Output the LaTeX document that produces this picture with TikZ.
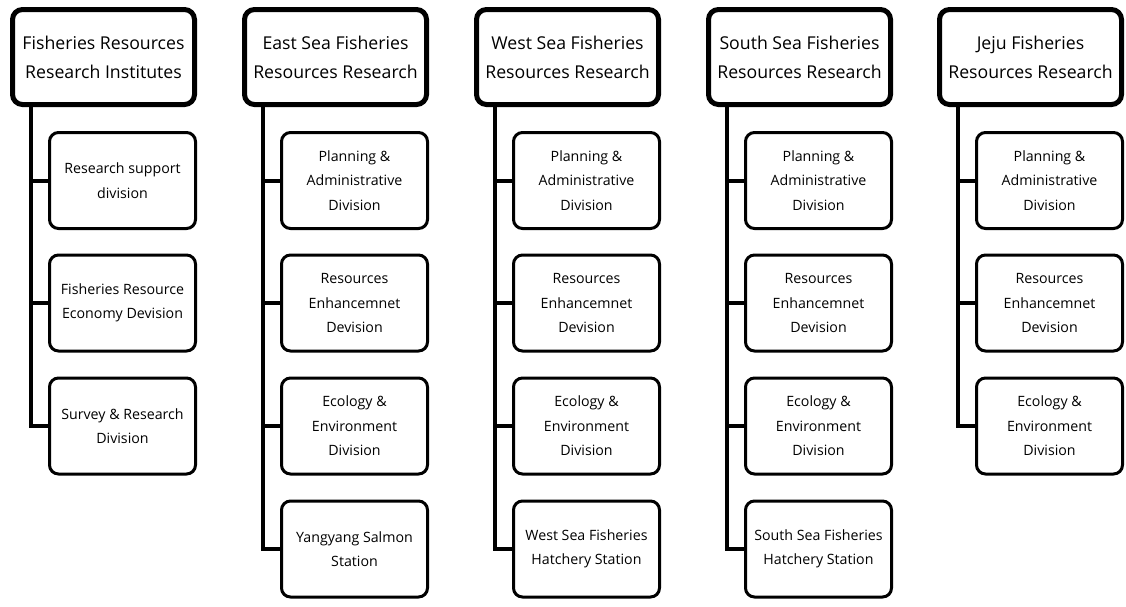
\documentclass[tikz,border=0pt]{standalone}
\usepackage{fontspec}
\setmainfont{Open Sans}
\usetikzlibrary{calc}
\begin{document}
\begin{tikzpicture}[x=1pt,y=-1pt,
  topbox/.style={draw, line width=5pt, rounded corners=10pt, fill=white, minimum width=182pt, minimum height=95pt, align=center, font=\fontsize{17.7}{29}\selectfont},
  childbox/.style={draw, line width=3pt, rounded corners=9pt, fill=white, minimum width=146pt, minimum height=96pt, align=center, font=\fontsize{14.2}{24.5}\selectfont},
  link/.style={line width=4pt}]
\useasboundingbox (0,0) rectangle (1126,606);
% Column 1
\node[topbox] (t1) at (103.5,57) {Fisheries Resources\\Research Institutes};
\node[childbox] (a1) at (122.5,180.5) {Research support\\division};
\node[childbox] (a2) at (122.5,303) {Fisheries Resource\\Economy Devision};
\node[childbox] (a3) at (122.5,426) {Survey \& Research\\Division};
\draw[link] ([xshift=21pt]t1.south west) |- (a3.west);
\draw[link] (a1.west) -| ([xshift=21pt]t1.south west);
\draw[link] (a2.west) -| ([xshift=21pt]t1.south west);
% Column 2
\node[topbox] (t2) at (335.5,57) {East Sea Fisheries\\Resources Research};
\node[childbox] (b1) at (354.5,180.5) {Planning \&\\Administrative\\Division};
\node[childbox] (b2) at (354.5,303) {Resources\\Enhancemnet\\Devision};
\node[childbox] (b3) at (354.5,426) {Ecology \&\\Environment\\Division};
\node[childbox] (b4) at (354.5,549) {Yangyang Salmon\\Station};
\draw[link] ([xshift=21pt]t2.south west) |- (b4.west);
\draw[link] (b1.west) -| ([xshift=21pt]t2.south west);
\draw[link] (b2.west) -| ([xshift=21pt]t2.south west);
\draw[link] (b3.west) -| ([xshift=21pt]t2.south west);
% Column 3
\node[topbox] (t3) at (567.5,57) {West Sea Fisheries\\Resources Research};
\node[childbox] (c1) at (586.5,180.5) {Planning \&\\Administrative\\Division};
\node[childbox] (c2) at (586.5,303) {Resources\\Enhancemnet\\Devision};
\node[childbox] (c3) at (586.5,426) {Ecology \&\\Environment\\Division};
\node[childbox] (c4) at (586.5,549) {West Sea Fisheries\\Hatchery Station};
\draw[link] ([xshift=21pt]t3.south west) |- (c4.west);
\draw[link] (c1.west) -| ([xshift=21pt]t3.south west);
\draw[link] (c2.west) -| ([xshift=21pt]t3.south west);
\draw[link] (c3.west) -| ([xshift=21pt]t3.south west);
% Column 4
\node[topbox] (t4) at (799.5,57) {South Sea Fisheries\\Resources Research};
\node[childbox] (d1) at (818.5,180.5) {Planning \&\\Administrative\\Division};
\node[childbox] (d2) at (818.5,303) {Resources\\Enhancemnet\\Devision};
\node[childbox] (d3) at (818.5,426) {Ecology \&\\Environment\\Division};
\node[childbox] (d4) at (818.5,549) {South Sea Fisheries\\Hatchery Station};
\draw[link] ([xshift=21pt]t4.south west) |- (d4.west);
\draw[link] (d1.west) -| ([xshift=21pt]t4.south west);
\draw[link] (d2.west) -| ([xshift=21pt]t4.south west);
\draw[link] (d3.west) -| ([xshift=21pt]t4.south west);
% Column 5
\node[topbox] (t5) at (1030.5,57) {Jeju Fisheries\\Resources Research};
\node[childbox] (e1) at (1049.5,180.5) {Planning \&\\Administrative\\Division};
\node[childbox] (e2) at (1049.5,303) {Resources\\Enhancemnet\\Devision};
\node[childbox] (e3) at (1049.5,426) {Ecology \&\\Environment\\Division};
\draw[link] ([xshift=21pt]t5.south west) |- (e3.west);
\draw[link] (e1.west) -| ([xshift=21pt]t5.south west);
\draw[link] (e2.west) -| ([xshift=21pt]t5.south west);
\end{tikzpicture}
\end{document}
